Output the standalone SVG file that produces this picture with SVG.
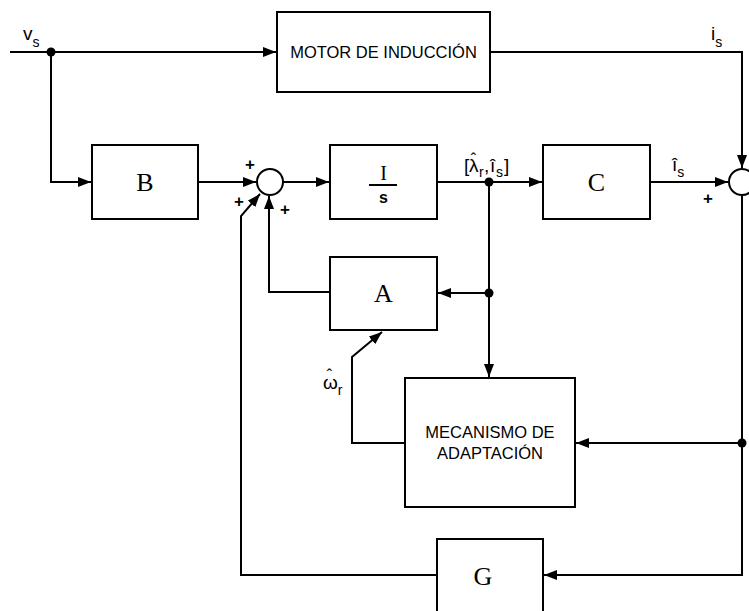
<svg xmlns="http://www.w3.org/2000/svg" width="749" height="611" viewBox="0 0 749 611">
<style>
.box{fill:#fff;stroke:#000;stroke-width:2}
.ln{fill:none;stroke:#000;stroke-width:2}
.blk{font-family:"Liberation Serif",serif;font-size:26px;text-anchor:middle;fill:#000}
.lbl{font-family:"Liberation Sans",Arial,sans-serif;font-size:16.5px;text-anchor:middle;fill:#000}
.sig{font-family:"Liberation Sans",Arial,sans-serif;font-size:19px;fill:#000}
.sub{font-size:14px}
.hat{font-family:"Liberation Sans",Arial,sans-serif;font-size:16px;text-anchor:middle;fill:#000}
.pm{font-family:"Liberation Sans",Arial,sans-serif;font-size:17px;font-weight:bold;text-anchor:middle;fill:#000}
</style>
<defs>
<marker id="ar" markerUnits="userSpaceOnUse" markerWidth="14" markerHeight="10" refX="13" refY="5" orient="auto">
<path d="M0,0 L13,5 L0,10 Z" fill="#000"/>
</marker>
</defs>
<rect width="749" height="611" fill="#fff"/>
<g id="connectors">
<path class="ln" d="M10,52 H276" marker-end="url(#ar)"/>
<path class="ln" d="M51,52 V182 H91" marker-end="url(#ar)"/>
<path class="ln" d="M490,52 H742 V168" marker-end="url(#ar)"/>
<path class="ln" d="M198,182 H256" marker-end="url(#ar)"/>
<path class="ln" d="M283,182 H329" marker-end="url(#ar)"/>
<path class="ln" d="M437,182 H542" marker-end="url(#ar)"/>
<path class="ln" d="M650,182 H728" marker-end="url(#ar)"/>
<path class="ln" d="M489,182 V377" marker-end="url(#ar)"/>
<path class="ln" d="M489,293 H438" marker-end="url(#ar)"/>
<path class="ln" d="M330,292 H269 V196" marker-end="url(#ar)"/>
<path class="ln" d="M405,443 H352 V357 L382,332" marker-end="url(#ar)"/>
<path class="ln" d="M742,196 V575 H544" marker-end="url(#ar)"/>
<path class="ln" d="M742,443 H576" marker-end="url(#ar)"/>
<path class="ln" d="M437,575 H241 V216 L260,194" marker-end="url(#ar)"/>
<circle cx="51" cy="52" r="4.5" fill="#000"/>
<circle cx="489" cy="182" r="4.5" fill="#000"/>
<circle cx="489" cy="293" r="4.5" fill="#000"/>
<circle cx="742" cy="443" r="4.5" fill="#000"/>
</g>
<g id="motor">
<rect class="box" x="277" y="12" width="213" height="80"/>
<text class="lbl" x="383.5" y="58">MOTOR DE INDUCCIÓN</text>
</g>
<g id="B">
<rect class="box" x="92" y="145" width="106" height="74"/>
<text class="blk" x="145" y="191">B</text>
</g>
<g id="sum1">
<circle cx="270" cy="182" r="13" fill="#fff" stroke="#000" stroke-width="2"/>
<text class="pm" x="250" y="170">+</text>
<text class="pm" x="239" y="207">+</text>
<text class="pm" x="285" y="215">+</text>
</g>
<g id="integrator">
<rect class="box" x="330" y="145" width="107" height="74"/>
<text class="blk" x="383.5" y="180" style="font-size:20px">I</text>
<line x1="369" y1="185" x2="397" y2="185" stroke="#000" stroke-width="2"/>
<text class="lbl" x="383.5" y="203" style="font-size:16px;font-weight:bold">s</text>
</g>
<g id="C">
<rect class="box" x="543" y="145" width="107" height="74"/>
<text class="blk" x="596.5" y="191">C</text>
</g>
<g id="sum2">
<circle cx="742" cy="182" r="13" fill="#fff" stroke="#000" stroke-width="2"/>
<text class="pm" x="708" y="204">+</text>
</g>
<g id="A">
<rect class="box" x="330" y="257" width="107" height="73"/>
<text class="blk" x="383.5" y="302">A</text>
</g>
<g id="mecanismo">
<rect class="box" x="405" y="378" width="170" height="129"/>
<text class="lbl" x="490" y="438">MECANISMO DE</text>
<text class="lbl" x="490" y="459">ADAPTACIÓN</text>
</g>
<g id="G">
<rect class="box" x="437" y="539" width="106" height="80"/>
<text class="blk" x="483" y="585">G</text>
</g>
<g id="labels">
<text class="sig" x="23" y="40">v<tspan class="sub" dy="7">s</tspan></text>
<text class="sig" x="711" y="40">i<tspan class="sub" dy="7">s</tspan></text>
<text class="sig" y="172"><tspan x="464">[</tspan><tspan x="469">λ</tspan><tspan class="sub" x="479" dy="5">r</tspan><tspan x="484" dy="-5">,</tspan><tspan x="490">î</tspan><tspan class="sub" x="496" dy="5">s</tspan><tspan x="504" dy="-5">]</tspan></text>
<text class="hat" x="473.5" y="165">ˆ</text>
<text class="sig" x="672" y="171">î<tspan class="sub" dy="6">s</tspan></text>
<text class="sig" x="323" y="389">ω<tspan class="sub" dy="6">r</tspan></text>
<text class="hat" x="329.5" y="381">ˆ</text>
</g>
</svg>
